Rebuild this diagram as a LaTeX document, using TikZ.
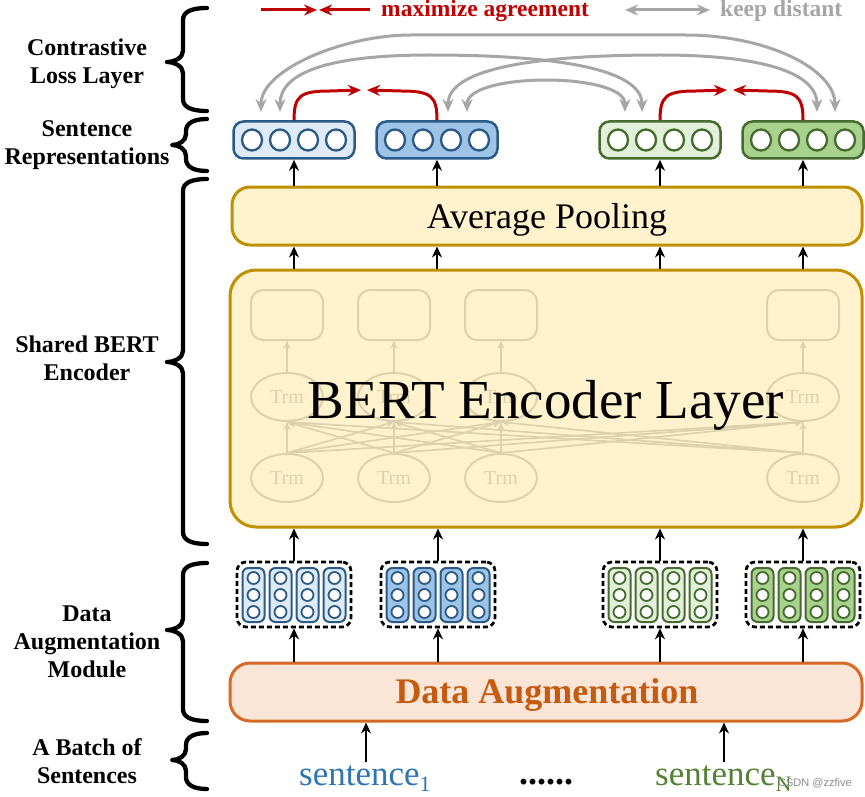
\documentclass[tikz,border=0pt]{standalone}
\usepackage{fontspec}
\setmainfont{Liberation Serif}
\setsansfont{Liberation Sans}
\usetikzlibrary{arrows.meta,shapes.geometric,calc}
\definecolor{bluetxt}{HTML}{2E75B6}
\definecolor{greentxt}{HTML}{548235}
\definecolor{orangetxt}{HTML}{C55A11}
\definecolor{dafill}{HTML}{FBE5D6}
\definecolor{daline}{HTML}{D46A26}
\definecolor{yfill}{HTML}{FFF2CC}
\definecolor{yline}{HTML}{BF9000}
\definecolor{bline}{HTML}{2B5A87}
\definecolor{bA}{HTML}{DEEBF7}
\definecolor{bB}{HTML}{9DC3E6}
\definecolor{gline}{HTML}{466B2E}
\definecolor{gA}{HTML}{E2F0D9}
\definecolor{gB}{HTML}{A9D18E}
\definecolor{redc}{HTML}{C00000}
\definecolor{grayc}{HTML}{A6A6A6}
\definecolor{faint}{HTML}{DDD0AC}
\newcommand{\mybrace}[5]{%
  \draw[bracepath] (207,#1) .. controls ({#4+8},#1) and (#4,{#1+4}) .. (#4,{#1+12})
   -- (#4,{#5-11}) .. controls (#4,{#5-4}) and ({#3+7},#5) .. (#3,#5)
   .. controls ({#3+7},#5) and (#4,{#5+4}) .. (#4,{#5+11})
   -- (#4,{#2-12}) .. controls (#4,{#2-4}) and ({#4+8},#2) .. (207,#2);}
\begin{document}
\begin{tikzpicture}[x=1pt,y=-1pt,
  bracepath/.style={line width=4.3pt, line cap=round, line join=round, black},
  lab/.style={font=\fontsize{24}{28}\selectfont\bfseries, align=center, inner sep=0pt},
  arr/.style={line width=2.8pt, -{Stealth[length=11pt,width=10pt]}},
  redarr/.style={line width=3pt, redc, -{Stealth[length=13pt,width=11pt]}},
  grayarr/.style={line width=3pt, grayc, {Stealth[length=13pt,width=11pt]}-{Stealth[length=13pt,width=11pt]}},
  ybox/.style={draw=yline, line width=3pt, fill=yfill},
  dabox/.style={draw=daline, line width=3pt, fill=dafill},
  repbox/.style={line width=2.5pt, minimum width=121pt, minimum height=37pt, rounded corners=10pt, inner sep=0pt},
  grpbox/.style={draw=black, line width=2.7pt, dash pattern=on 5pt off 3pt, minimum width=114pt, minimum height=65pt, rounded corners=9pt, inner sep=0pt},
  fbox/.style={draw=faint, line width=2pt, fill=yfill, minimum width=72pt, minimum height=50pt, rounded corners=12pt, inner sep=0pt},
  fell/.style={ellipse, draw=faint, line width=2pt, fill=yfill, minimum width=72pt, minimum height=48pt, inner sep=0pt, text=faint, font=\fontsize{20}{22}\selectfont},
  farr/.style={draw=faint, line width=1.7pt, -{Stealth[length=8pt,width=7pt]}}
]
\useasboundingbox (0,0) rectangle (865,797);
\fill[white] (0,0) rectangle (865,797);

% braces and labels
\mybrace{8}{111}{167}{183}{62}
\node[lab] (Lcl) at (87,63.5) {Contrastive\\Loss Layer};
\mybrace{119}{171}{172}{186}{145}
\node[lab] (Lsr) at (87,145.5) {Sentence\\Representations};
\mybrace{179}{544}{167}{183}{362}
\node[lab] (Lbe) at (87,358) {Shared BERT\\Encoder};
\mybrace{563}{721}{167}{183}{630}
\node[lab] (Lda) at (87,642) {Data\\Augmentation\\Module};
\mybrace{733}{789}{172}{186}{760}
\node[lab] (Lbs) at (87,761) {A Batch of\\Sentences};

% legend
\coordinate (la1) at (261,10); \coordinate (la2) at (317,10);
\coordinate (la3) at (370,10); \coordinate (la4) at (319,10);
\draw[redarr] (la1) -- (la2);
\draw[redarr] (la3) -- (la4);
\node[anchor=base west, inner sep=0pt, text=redc, font=\fontsize{23.5}{28}\selectfont\bfseries] (lmax) at (381,17) {maximize agreement};
\coordinate (lg1) at (625,10); \coordinate (lg2) at (710,10);
\draw[grayarr] (lg1) -- (lg2);
\node[anchor=base west, inner sep=0pt, text=grayc, font=\fontsize{23.5}{28}\selectfont\bfseries] (lkeep) at (720,17) {keep distant};

% main boxes
\node[ybox, minimum width=630pt, minimum height=58pt, rounded corners=18pt] (pool) at (547,216) {};
\node[anchor=base, inner sep=0pt, font=\fontsize{36}{40}\selectfont] (pooltxt) at (547,228) {Average Pooling};
\node[ybox, minimum width=632pt, minimum height=257pt, rounded corners=26pt] (bert) at (546,398.5) {};

% faint BERT internals
\foreach \i/\cx in {1/287,2/394,3/501,4/803} {
  \node[fbox] (t\i) at (\cx,315) {};
  \node[fell] (m\i) at (\cx,397) {Trm};
  \node[fell] (b\i) at (\cx,478) {Trm};
}
\foreach \i in {1,...,4} {
  \draw[farr] (m\i.north) -- (t\i.south);
  \foreach \j in {1,...,4} { \draw[farr] (b\j.north) -- (m\i.south); }
}
\node[anchor=base, inner sep=0pt, font=\fontsize{55}{60}\selectfont] (berttxt) at (546,418) {BERT Encoder Layer};

\node[dabox, minimum width=632pt, minimum height=58pt, rounded corners=20pt] (da) at (546,692) {};
\node[anchor=base, inner sep=0pt, text=orangetxt, font=\fontsize{36}{40}\selectfont\bfseries] (datxt) at (547,703) {Data Augmentation};

% sentence representations
\foreach \i/\cx/\fc/\lc in {1/294/bA/bline, 2/437/bB/bline, 3/660/gA/gline, 4/803/gB/gline} {
  \node[repbox, draw=\lc, fill=\fc] (r\i) at (\cx,140) {};
  \foreach \o in {-42,-14,14,42} {
    \draw[draw=\lc, line width=2.3pt, fill=white] ({\cx+(\o)},140) ellipse [x radius=10, y radius=10.5];
  }
}

% augmented token groups
\foreach \i/\cx/\fc/\lc in {1/294/bA/bline, 2/438/bB/bline, 3/660/gA/gline, 4/803/gB/gline} {
  \node[grpbox] (g\i) at (\cx,594.5) {};
  \foreach \o in {-40.5,-13.5,13.5,40.5} {
    \draw[draw=\lc, line width=2pt, fill=\fc, rounded corners=6pt] ({\cx+(\o)-11},568) rectangle ({\cx+(\o)+11},622);
    \foreach \yy in {578,595,612} {
      \draw[draw=\lc, line width=1.8pt, fill=white] ({\cx+(\o)},\yy) circle [radius=6];
    }
  }
}

% vertical arrows
\foreach \i in {1,...,4} {
  \draw[arr] (pool.north -| r\i) -- (r\i.south);
  \draw[arr] (bert.north -| r\i) -- (pool.south -| r\i);
  \draw[arr] (g\i.north) -- (bert.south -| g\i);
  \draw[arr] (da.north -| g\i) -- (g\i.south);
}

% contrastive arcs
\coordinate (k1) at (261,112); \coordinate (k2) at (280,112);
\coordinate (k3) at (448,112); \coordinate (k4) at (467,112);
\coordinate (k5) at (625,112); \coordinate (k6) at (642,112);
\coordinate (k7) at (817,112); \coordinate (k8) at (835,112);
\draw[grayarr] (k1) .. controls (261,69.5) and (344,35) .. (411,35) -- (685,35) .. controls (768,35) and (835,69.5) .. (k8);
\draw[grayarr] (k2) .. controls (280,72) and (330,55) .. (430,55) .. controls (520,55) and (642,62) .. (k6);
\draw[grayarr] (k3) .. controls (448,62) and (570,55) .. (660,55) .. controls (760,55) and (817,72) .. (k7);
\draw[grayarr] (k4) .. controls (467,72) and (625,72) .. (k5);

\coordinate (p1) at (361,90); \coordinate (p2) at (367,90);
\coordinate (p3) at (727,90); \coordinate (p4) at (733,90);
\draw[redarr] (r1.north) .. controls (294,96) and (300,91) .. (330,91) -- (p1);
\draw[redarr] (r2.north) .. controls (437,96) and (431,91) .. (401,91) -- (p2);
\draw[redarr] (r3.north) .. controls (660,96) and (666,91) .. (696,91) -- (p3);
\draw[redarr] (r4.north) .. controls (803,96) and (797,91) .. (767,91) -- (p4);

% sentences
\coordinate (c1) at (366,762); \coordinate (c2) at (724,762);
\draw[arr] (c1) -- (c1 |- da.south);
\draw[arr] (c2) -- (c2 |- da.south);
\node[anchor=base west, inner sep=0pt, text=bluetxt, font=\fontsize{35}{40}\selectfont] (s1) at (299,785) {sentence\raisebox{-6pt}{\fontsize{22}{24}\selectfont 1}};
\node[anchor=base west, inner sep=0pt, font=\fontsize{36}{40}\selectfont\bfseries] (dots) at (519,784) {......};
\node[anchor=base west, inner sep=0pt, text=greentxt, font=\fontsize{35}{40}\selectfont] (sN) at (655,785) {sentence\raisebox{-6pt}{\fontsize{22}{24}\selectfont N}};
\node[anchor=base west, inner sep=0pt, text=black!45, font=\sffamily\fontsize{11}{13}\selectfont] (wm) at (778,786) {CSDN @zzfive};
\end{tikzpicture}
\end{document}
